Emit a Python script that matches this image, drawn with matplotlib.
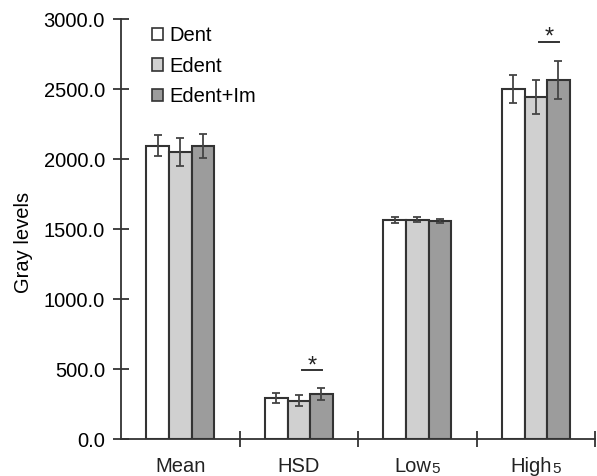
import matplotlib
matplotlib.use("Agg")
import matplotlib.pyplot as plt
import numpy as np
from matplotlib.patches import Patch

plt.rcParams['font.family'] = ['Liberation Sans', 'DejaVu Sans']

categories = ["Mean", "HSD", "Low", "High"]
subscripts = ["", "", "5", "5"]
series = ["Dent", "Edent", "Edent+Im"]
dent = [2095, 291, 1565, 2498]
edent = [2048, 274, 1565, 2445]
edent_im = [2095, 321, 1560, 2564]
dent_err = [75, 35, 20, 100]
edent_err = [100, 40, 18, 120]
edent_im_err = [85, 45, 15, 138]
yticks = [0, 500, 1000, 1500, 2000, 2500, 3000]
# significance brackets: (category index, height)
sig = [(1, 493), (3, 2838)]

colors = ["#ffffff", "#d0d0d0", "#9c9c9c"]
edge = "#333333"
fs = 14.5
sub_fs = 11

fig = plt.figure(figsize=(5.97, 4.76), dpi=100)
ax = fig.add_axes([0.2027, 0.0777, 0.794, 0.8823])

x = np.arange(len(categories)) + 0.5
w = 0.19
vals = [dent, edent, edent_im]
errs = [dent_err, edent_err, edent_im_err]
handles = []
for i, (v, e, c, s) in enumerate(zip(vals, errs, colors, series)):
    pos = x + (i - 1) * w
    ax.bar(pos, v, width=w, color=c, edgecolor=edge, linewidth=1.5, zorder=2)
    ax.errorbar(pos, v, yerr=e, fmt='none', ecolor="#444444", elinewidth=1.3,
                capsize=3, capthick=1.3, zorder=3)
    handles.append(Patch(facecolor=c, edgecolor=edge, linewidth=1.2, label=s))

for ci, h in sig:
    ax.plot([x[ci] + 0.03, x[ci] + w + 0.01], [h, h], color="#333333", lw=1.4)
    ax.text(x[ci] + w / 2 + 0.02, h - 15, "*", ha='center', va='baseline', fontsize=17, color="#222222")

ax.set_xlim(0, 4)
ax.set_ylim(0, 3000)
ax.set_yticks(yticks)
ax.set_yticklabels([f"{t:.1f}" for t in yticks], fontsize=fs)
ax.set_xticks([1, 2, 3, 4])
ax.set_xticklabels([])
ax.tick_params(axis='x', which='major', direction='inout', length=11, width=1.3, color="#333333")
ax.tick_params(axis='y', direction='inout', length=11, width=1.3, color="#333333", pad=6)

# category labels with small subscript digits
for xi, name, sub in zip(x, categories, subscripts):
    shift = -3.5 if sub else 0
    base = ax.annotate(name, xy=(xi, 0), xycoords=('data', 'axes fraction'),
                       xytext=(shift, -13), textcoords='offset points',
                       ha='center', va='top', fontsize=fs, color="#222222")
    if sub:
        ax.annotate(sub, xy=(1, 0), xycoords=base, xytext=(0.3, 0),
                    textcoords='offset points', ha='left', va='bottom',
                    fontsize=sub_fs, color="#222222")

for sp in ['top', 'right']:
    ax.spines[sp].set_visible(False)
for sp in ['left', 'bottom']:
    ax.spines[sp].set_linewidth(1.3)
    ax.spines[sp].set_color("#333333")
ax.set_ylabel("Gray levels", fontsize=fs)
ax.yaxis.set_label_coords(-0.185, 0.469)

ax.legend(handles=handles, loc='upper left', bbox_to_anchor=(0.066, 0.983), frameon=False,
          fontsize=fs, handlelength=0.55, handleheight=0.55, handletextpad=0.3,
          labelspacing=0.57, borderaxespad=0, borderpad=0)

fig.savefig("out.png", dpi=100)
